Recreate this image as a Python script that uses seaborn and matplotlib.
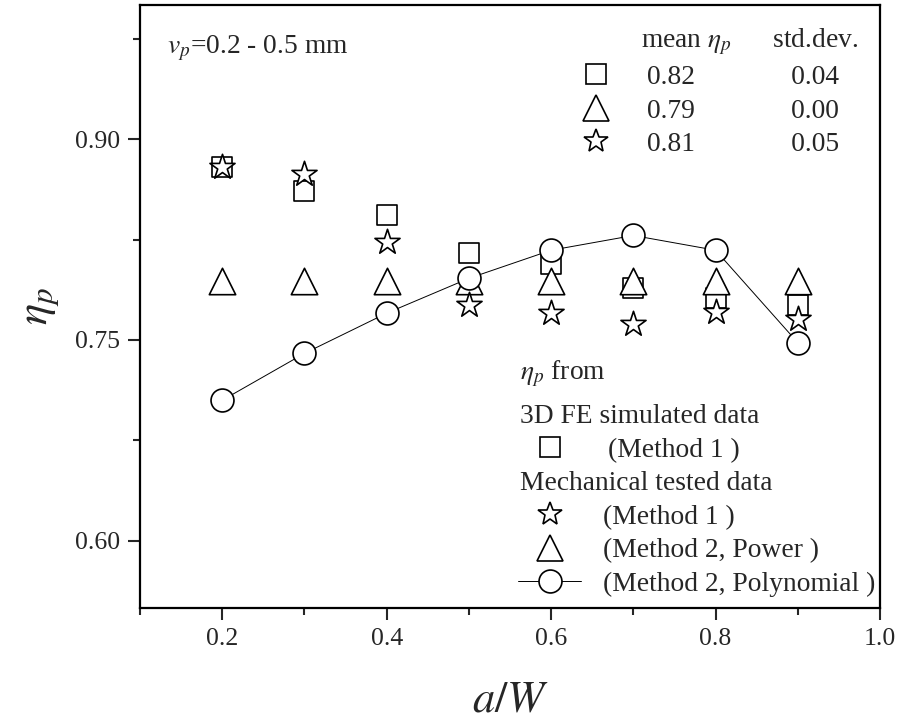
import seaborn as sns
import matplotlib.pyplot as plt
from matplotlib.lines import Line2D
from matplotlib.ticker import MultipleLocator, FormatStrFormatter

# DATA
a_w = [0.2, 0.3, 0.4, 0.5, 0.6, 0.7, 0.8, 0.9]
fe_method1 = [0.879, 0.861, 0.843, 0.815, 0.807, 0.789, 0.781, 0.776]
test_method1 = [0.879, 0.874, 0.823, 0.776, 0.770, 0.762, 0.771, 0.766]
test_power = [0.794, 0.794, 0.794, 0.794, 0.794, 0.794, 0.794, 0.794]
test_poly = [0.705, 0.740, 0.770, 0.796, 0.817, 0.828, 0.817, 0.748]

# summary table (square, triangle, star)
table_mean = ["0.82", "0.79", "0.81"]
table_std = ["0.04", "0.00", "0.05"]

# STYLE
sns.set_style("ticks")
plt.rcParams["font.family"] = ["Liberation Serif", "DejaVu Sans"]
plt.rcParams["mathtext.fontset"] = "stix"

DPI = 100
FS = 19.8
fig = plt.figure(figsize=(9.05, 7.22), dpi=DPI)
ax = fig.add_axes([0.1547, 0.158, 0.8177, 0.835])

# MARKERS
edge = dict(color="white", edgecolor="black", linewidth=1.2)
sns.scatterplot(x=a_w, y=fe_method1, marker="s", s=14.4 ** 2, ax=ax, zorder=3, **edge)
sns.scatterplot(x=a_w, y=test_power, marker="^", s=19 ** 2, ax=ax, zorder=4, **edge)
sns.scatterplot(x=a_w, y=test_method1, marker="*", s=19 ** 2, ax=ax, zorder=5, **edge)
sns.lineplot(x=a_w, y=test_poly, ax=ax, color="black", lw=0.7, marker="o",
             markersize=16.5, markerfacecolor="white", markeredgecolor="black",
             markeredgewidth=1.2, zorder=6)

# AXES
ax.set_xlim(0.1, 1.0)
ax.set_ylim(0.55, 1.0)
ax.xaxis.set_major_locator(MultipleLocator(0.2))
ax.xaxis.set_minor_locator(MultipleLocator(0.1))
ax.yaxis.set_major_locator(MultipleLocator(0.15))
ax.yaxis.set_minor_locator(MultipleLocator(0.075))
ax.xaxis.set_major_formatter(FormatStrFormatter("%.1f"))
ax.yaxis.set_major_formatter(FormatStrFormatter("%.2f"))
ax.tick_params(which="major", direction="out", length=8.5, width=1.5,
               labelsize=18.5, pad=6, top=False, right=False)
ax.tick_params(which="minor", direction="out", length=5, width=1.5,
               top=False, right=False)
for sp in ax.spines.values():
    sp.set_visible(True)
    sp.set_linewidth(1.6)
    sp.set_color("black")

ax.set_xlabel(r"$a/W$", fontsize=32, labelpad=22)
ax.set_ylabel(r"$\eta_p$", fontsize=32, labelpad=10)

ax.text(0.036, 0.92, r"$v_p$=0.2 - 0.5 mm", fontsize=FS, transform=ax.transAxes,
        va="baseline", ha="left")

# SUMMARY TABLE (top right)
blank = Line2D([], [], color="none")
sq = Line2D([], [], ls="none", marker="s", ms=14.4, mfc="white", mec="black", mew=1.2)
tri = Line2D([], [], ls="none", marker="^", ms=19, mfc="white", mec="black", mew=1.2)
star = Line2D([], [], ls="none", marker="*", ms=18, mfc="white", mec="black", mew=1.2)
circ = Line2D([], [], color="black", lw=0.7, marker="o", ms=16.5, mfc="white",
              mec="black", mew=1.2)

gap = " " * 14
top_labels = [r"mean $\eta_p$" + " " * 6 + "std.dev."] + \
             [m + gap + s for m, s in zip(table_mean, table_std)]
hl1, hp1 = 1.5, 1.12
leg1 = ax.legend([blank, sq, tri, star], top_labels, loc="upper left",
                 bbox_to_anchor=(0.588, 0.965), frameon=False, fontsize=FS,
                 handlelength=hl1, handletextpad=hp1, labelspacing=0.3,
                 borderpad=0, borderaxespad=0)
leg1.get_texts()[0].set_x(-6)
ax.add_artist(leg1)

# SOURCE LEGEND (bottom right)
bot_labels = [r"$\eta_p$ from", "3D FE simulated data", "(Method 1 )",
              "Mechanical tested data", "(Method 1 )", "(Method 2, Power )",
              "(Method 2, Polynomial )"]
hl, hp = 2.3, 0.8
leg2 = ax.legend([blank, blank, sq, blank, star, tri, circ], bot_labels,
                 loc="upper left", bbox_to_anchor=(0.511, 0.402), frameon=False,
                 fontsize=FS, handlelength=hl, handletextpad=hp, labelspacing=0.3,
                 borderpad=0, borderaxespad=0)
shift = (hl + hp) * FS * DPI / 72 - 2
for i in [0, 1, 3]:
    leg2.get_texts()[i].set_x(-shift)
leg2.get_texts()[0].set_y(7)
leg2.get_texts()[2].set_x(5)

fig.savefig("out.png", dpi=DPI)
